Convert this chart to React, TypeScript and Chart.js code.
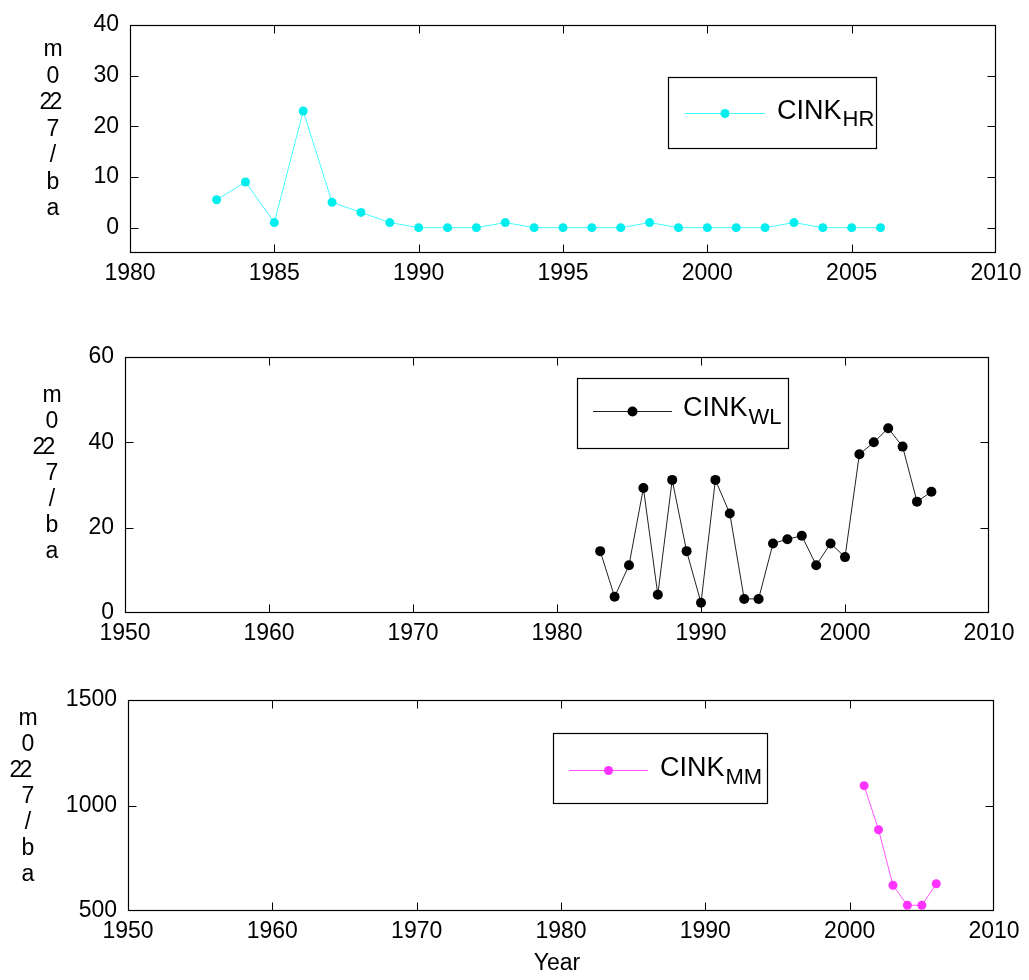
import React, { useEffect, useRef } from 'react';
import { Chart, registerables } from 'chart.js';

Chart.register(...registerables);

// ---------- data ----------
const hrYears = [1983, 1984, 1985, 1986, 1987, 1988, 1989, 1990, 1991, 1992, 1993, 1994, 1995, 1996, 1997, 1998, 1999, 2000, 2001, 2002, 2003, 2004, 2005, 2006];
const hrValues = [5.5, 9, 1, 23, 5, 3, 1, 0, 0, 0, 1, 0, 0, 0, 0, 1, 0, 0, 0, 0, 1, 0, 0, 0];

const wlYears = [1983, 1984, 1985, 1986, 1987, 1988, 1989, 1990, 1991, 1992, 1993, 1994, 1995, 1996, 1997, 1998, 1999, 2000, 2001, 2002, 2003, 2004, 2005, 2006];
const wlValues = [14.5, 3.8, 11.2, 29.3, 4.3, 31.2, 14.5, 2.4, 31.2, 23.3, 3.3, 3.3, 16.3, 17.3, 18.1, 11.2, 16.3, 13.1, 37.2, 40, 43.3, 39, 26.1, 28.4];

const mmYears = [2001, 2002, 2003, 2004, 2005, 2006];
const mmValues = [1094, 885, 622, 527, 527, 629];

const xTicksTop = [1980, 1985, 1990, 1995, 2000, 2005, 2010];
const xTicksWide = [1950, 1960, 1970, 1980, 1990, 2000, 2010];
const yTicksHR = [0, 10, 20, 30, 40];
const yTicksWL = [0, 20, 40, 60];
const yTicksMM = [500, 1000, 1500];

const yLabelChars = ['m', '0', '2', '7', '/', 'b', 'a'];
const legendMain = 'CINK';
const subHR = 'HR';
const subWL = 'WL';
const subMM = 'MM';
const xTitle = 'Year';

const FONT = '"Liberation Sans", Arial, Helvetica, sans-serif';
const TICK_SIZE = 23;

type PanelCfg = {
  years: number[];
  values: number[];
  xTicks: number[];
  yTicks: number[];
  xMin: number; xMax: number; yMin: number; yMax: number;
  canvasTop: number; canvasHeight: number;
  area: { left: number; right: number; top: number; bottom: number };
  line: string; point: string; radius: number;
  legend: { x: number; y: number; w: number; h: number; lineY: number; x1: number; x2: number; textX: number; base: number; subBase: number; sub: string };
  ylab: { x: number; y: number; step: number; dup: [number, number] };
  xTitle?: string;
};

function makeDecor(cfg: PanelCfg) {
  return {
    id: 'decor',
    afterDraw(chart: any) {
      const ctx = chart.ctx as CanvasRenderingContext2D;
      const ca = chart.chartArea;
      const xs = chart.scales.x;
      const ys = chart.scales.y;
      const off = cfg.canvasTop;
      ctx.save();
      const L = Math.round(ca.left) + 0.5, R = Math.round(ca.right) - 0.5;
      const T = Math.round(ca.top) + 0.5, B = Math.round(ca.bottom) - 0.5;
      // inward ticks on all four sides
      ctx.strokeStyle = '#000';
      ctx.lineWidth = 1;
      const tl = 8;
      ctx.beginPath();
      for (const v of cfg.xTicks) {
        const px = Math.min(R, Math.max(L, Math.round(xs.getPixelForValue(v)) + 0.5));
        ctx.moveTo(px, B); ctx.lineTo(px, B - tl);
        ctx.moveTo(px, T); ctx.lineTo(px, T + tl);
      }
      for (const v of cfg.yTicks) {
        const py = Math.min(B, Math.max(T, Math.round(ys.getPixelForValue(v)) + 0.5));
        ctx.moveTo(L, py); ctx.lineTo(L + tl, py);
        ctx.moveTo(R, py); ctx.lineTo(R - tl, py);
      }
      ctx.stroke();
      // box
      ctx.strokeStyle = '#000';
      ctx.lineWidth = 1.2;
      ctx.strokeRect(L, T, R - L, B - T);

      // legend
      const lg = cfg.legend;
      ctx.strokeStyle = '#000';
      ctx.lineWidth = 1.2;
      ctx.fillStyle = '#fff';
      ctx.fillRect(lg.x, lg.y - off, lg.w, lg.h);
      ctx.strokeRect(lg.x + 0.5, lg.y - off + 0.5, lg.w, lg.h);
      ctx.strokeStyle = cfg.line;
      ctx.lineWidth = 1;
      ctx.beginPath();
      ctx.moveTo(lg.x1, lg.lineY - off + 0.5);
      ctx.lineTo(lg.x2, lg.lineY - off + 0.5);
      ctx.stroke();
      ctx.fillStyle = cfg.point;
      ctx.beginPath();
      ctx.arc((lg.x1 + lg.x2) / 2, lg.lineY - off + 0.5, cfg.radius, 0, Math.PI * 2);
      ctx.fill();
      ctx.fillStyle = '#000';
      ctx.textAlign = 'left';
      ctx.textBaseline = 'alphabetic';
      ctx.font = `27px ${FONT}`;
      ctx.fillText(legendMain, lg.textX, lg.base - off);
      const w = ctx.measureText(legendMain).width;
      ctx.font = `22px ${FONT}`;
      ctx.fillText(lg.sub, lg.textX + w + 1, lg.subBase - off);

      // stacked y label
      const yl = cfg.ylab;
      ctx.font = `${TICK_SIZE}px ${FONT}`;
      ctx.textAlign = 'center';
      ctx.textBaseline = 'middle';
      yLabelChars.forEach((c, i) => {
        const cy = yl.y + i * yl.step - off;
        if (i === 2) {
          ctx.fillText(c, yl.x + yl.dup[0], cy);
          ctx.fillText(c, yl.x + yl.dup[1], cy);
        } else {
          ctx.fillText(c, yl.x, cy);
        }
      });

      if (cfg.xTitle) {
        ctx.textAlign = 'center';
        ctx.textBaseline = 'middle';
        ctx.fillText(cfg.xTitle, (ca.left + ca.right) / 2 - 4, ca.bottom + 53);
      }
      ctx.restore();
    },
  };
}

function Panel({ cfg }: { cfg: PanelCfg }) {
  const ref = useRef<HTMLCanvasElement>(null);
  useEffect(() => {
    const canvasBottom = cfg.canvasTop + cfg.canvasHeight;
    const tickFont = { family: FONT, size: TICK_SIZE };
    const chart = new Chart(ref.current as HTMLCanvasElement, {
      type: 'line',
      data: {
        datasets: [
          {
            data: cfg.years.map((x, i) => ({ x, y: cfg.values[i] })),
            borderColor: cfg.line,
            backgroundColor: cfg.point,
            pointBackgroundColor: cfg.point,
            pointBorderColor: cfg.point,
            pointBorderWidth: 0,
            pointRadius: cfg.radius,
            borderWidth: 1,
            tension: 0,
            fill: false,
            clip: false as any,
          },
        ],
      },
      options: {
        animation: false,
        responsive: false,
        devicePixelRatio: 1,
        layout: {
          padding: {
            top: cfg.area.top - cfg.canvasTop,
            right: 1029 - cfg.area.right,
            left: 0,
            bottom: 0,
          },
        },
        plugins: {
          legend: { display: false },
          tooltip: { enabled: false },
        },
        scales: {
          x: {
            type: 'linear',
            min: cfg.xMin,
            max: cfg.xMax,
            grid: { display: false, drawTicks: false, tickLength: 0 },
            border: { display: false },
            ticks: { font: tickFont, color: '#000', padding: 7, maxRotation: 0, autoSkip: false, callback: (v: any) => String(v) },
            afterBuildTicks: (s: any) => { s.ticks = cfg.xTicks.map((value) => ({ value })); },
            afterFit: (s: any) => { s.height = canvasBottom - cfg.area.bottom; },
          },
          y: {
            type: 'linear',
            min: cfg.yMin,
            max: cfg.yMax,
            grid: { display: false, drawTicks: false, tickLength: 0 },
            border: { display: false },
            ticks: { font: tickFont, color: '#000', padding: 11, autoSkip: false, callback: (v: any) => String(v) },
            afterBuildTicks: (s: any) => { s.ticks = cfg.yTicks.map((value) => ({ value })); },
            afterFit: (s: any) => { s.width = cfg.area.left; },
          },
        },
      } as any,
      plugins: [makeDecor(cfg)],
    });
    return () => chart.destroy();
  }, [cfg]);
  return (
    <canvas
      ref={ref}
      width={1029}
      height={cfg.canvasHeight}
      style={{ position: 'absolute', left: 0, top: cfg.canvasTop, width: 1029, height: cfg.canvasHeight }}
    />
  );
}

const panels: PanelCfg[] = [
  {
    years: hrYears, values: hrValues, xTicks: xTicksTop, yTicks: yTicksHR,
    xMin: 1980, xMax: 2010, yMin: -5, yMax: 40,
    canvasTop: 0, canvasHeight: 300,
    area: { left: 130, right: 996, top: 23, bottom: 253 },
    line: '#44ffff', point: '#00eeee', radius: 4.5,
    legend: { x: 668, y: 77, w: 208, h: 71, lineY: 113, x1: 685, x2: 765, textX: 777, base: 119, subBase: 126, sub: subHR },
    ylab: { x: 53, y: 50, step: 26.5, dup: [-7, 3] },
  },
  {
    years: wlYears, values: wlValues, xTicks: xTicksWide, yTicks: yTicksWL,
    xMin: 1950, xMax: 2010, yMin: 0, yMax: 60,
    canvasTop: 320, canvasHeight: 340,
    area: { left: 125, right: 989, top: 357, bottom: 613 },
    line: '#222222', point: '#000000', radius: 5,
    legend: { x: 577, y: 378, w: 211, h: 70, lineY: 411, x1: 593, x2: 672, textX: 683, base: 416, subBase: 424, sub: subWL },
    ylab: { x: 52, y: 396, step: 26, dup: [-13, -3] },
  },
  {
    years: mmYears, values: mmValues, xTicks: xTicksWide, yTicks: yTicksMM,
    xMin: 1950, xMax: 2010, yMin: 500, yMax: 1500,
    canvasTop: 670, canvasHeight: 310,
    area: { left: 128, right: 994, top: 700, bottom: 911 },
    line: '#ff55ff', point: '#ff33ff', radius: 4.5,
    legend: { x: 553, y: 733, w: 214, h: 70, lineY: 770, x1: 569, x2: 648, textX: 660, base: 776, subBase: 784, sub: subMM },
    ylab: { x: 28, y: 719, step: 26, dup: [-12, -2] },
    xTitle,
  },
];

export default function App() {
  return (
    <div style={{ position: 'absolute', left: 0, top: 0, width: 1029, height: 980, background: '#fff' }}>
      {panels.map((p, i) => (
        <Panel key={i} cfg={p} />
      ))}
    </div>
  );
}
